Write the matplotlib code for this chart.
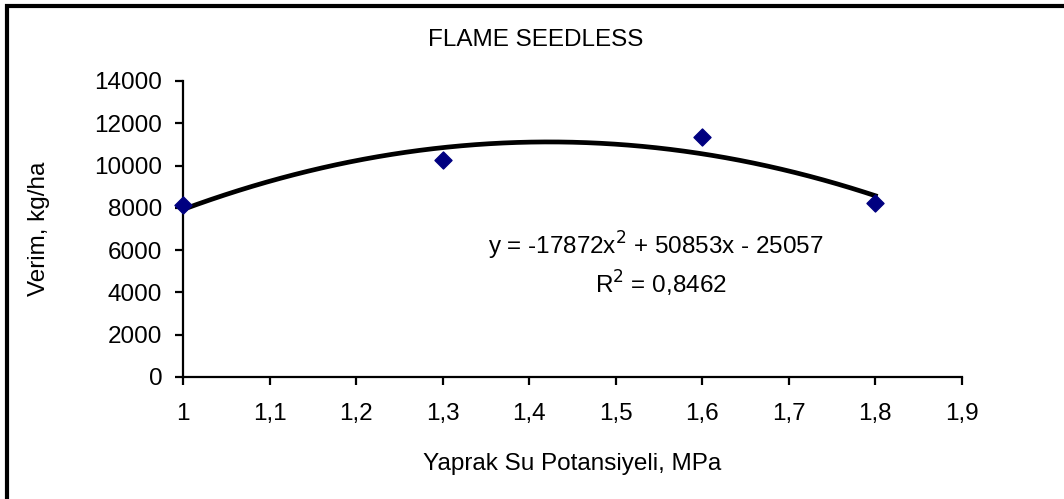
import numpy as np
import matplotlib.pyplot as plt
from matplotlib.patches import Rectangle

plt.rcParams['font.family'] = ['Liberation Sans', 'DejaVu Sans']

# veriler
potansiyel = [1.0, 1.3, 1.6, 1.8]
verim = [8130, 10250, 11350, 8230]
katsayilar = [-17872, 50853, -25057]
r2 = "0,8462"

xticks = [1.0, 1.1, 1.2, 1.3, 1.4, 1.5, 1.6, 1.7, 1.8, 1.9]
xticklabels = ["1", "1,1", "1,2", "1,3", "1,4", "1,5", "1,6", "1,7", "1,8", "1,9"]
yticks = [0, 2000, 4000, 6000, 8000, 10000, 12000, 14000]

fs = 17.5

fig = plt.figure(figsize=(10.64, 4.99), dpi=100)
ax = fig.add_axes([0.172, 0.2445, 0.732, 0.5932])

xs = np.linspace(min(potansiyel), max(potansiyel), 200)
ax.plot(xs, np.polyval(katsayilar, xs), color="black", lw=3.4, zorder=2)
ax.scatter(potansiyel, verim, marker="D", s=75, color="#000080", zorder=3, clip_on=False)

ax.set_xlim(1.0, 1.9)
ax.set_ylim(0, 14000)
ax.set_xticks(xticks)
ax.set_xticklabels(xticklabels)
ax.set_yticks(yticks)
for s in ["top", "right"]:
    ax.spines[s].set_visible(False)
for s in ["left", "bottom"]:
    ax.spines[s].set_linewidth(1.6)
ax.tick_params(axis="both", direction="out", length=6, width=1.6, labelsize=fs)
ax.tick_params(axis="x", pad=13)
ax.tick_params(axis="y", pad=9)

ax.set_xlabel("Yaprak Su Potansiyeli, MPa", fontsize=fs, labelpad=20)
ax.set_ylabel("Verim, kg/ha", fontsize=fs, labelpad=32)
# baslik grafik alaninin degil sekil cercevesinin ortasinda
fig.text(0.503, 0.908, "FLAME SEEDLESS", fontsize=fs, ha="center", va="baseline")

ax.text(1.5465, 6200, "y = -17872x$^2$ + 50853x - 25057", fontsize=fs, ha="center", va="center")
ax.text(1.552, 4420, "R$^2$ = " + r2, fontsize=fs, ha="center", va="center")

fig.patches.append(Rectangle((7 / 1064, -0.1), 1.2, (496 - 3) / 499 + 0.1,
                             transform=fig.transFigure, fill=False, ec="black", lw=3))

fig.savefig("out.png", dpi=100)
